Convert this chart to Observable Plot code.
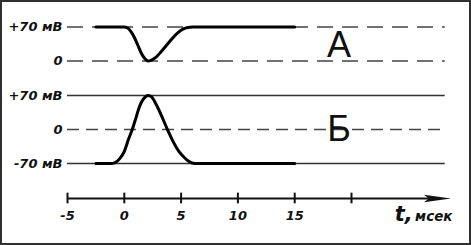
<!DOCTYPE html>
<html>
<head>
<meta charset="utf-8">
<script src="https://cdn.jsdelivr.net/npm/d3@7"></script>
<script src="https://cdn.jsdelivr.net/npm/@observablehq/plot@0.6"></script>
<style>
  html, body { margin: 0; padding: 0; background: #fff; }
  #chart svg { display: block; outline: 2.5px solid #303030; outline-offset: -2.5px; }
</style>
</head>
<body>
<div id="chart"></div>
<script>
// ---- data ----
// Panel А: potential trace (t in ms, value in mV)
const tA = [-2.5, 0, 0.3, 0.6, 0.9, 1.2, 1.5, 1.8, 2.1, 2.4, 2.8, 3.2, 3.7, 4.2, 4.7, 5.2, 5.6, 6.0, 15];
const vA = [70, 70, 68, 60, 48, 32, 16, 5, 0, 2, 8, 18, 32, 46, 58, 66, 69, 70, 70];
// Panel Б: action potential trace
const tB = [-2.5, -1.2, -0.8, -0.4, 0, 0.4, 0.7, 1.0, 1.3, 1.6, 1.9, 2.1, 2.4, 2.8, 3.3, 3.8, 4.3, 4.8, 5.3, 5.7, 6.2, 15];
const vB = [-70, -70, -68, -60, -45, -18, 0, 22, 45, 60, 68, 70, 67, 52, 27, 0, -25, -45, -58, -66, -70, -70];
// Reference levels
const levelPanels = ["А", "А", "Б", "Б", "Б"];
const levelValues = [70, 0, 70, 0, -70];
const levelLabels = ["+70 мВ", "0", "+70 мВ", "0", "-70 мВ"];
// Time axis
const timeTicks = [-5, 0, 5, 10, 15, 20];
const timeTickLabels = ["-5", "0", "5", "10", "15", ""];
const panelNames = ["А", "Б"];
const axisTitle = "t,";
const axisUnit = "мсек";

// ---- layout helpers (not data) ----
const panelOffset = {"А": 141, "Б": 0};
const axisY = -142;
const lineEnd = 28.25;
const arrowEnd = 28.75;

const curveA = tA.map((t, i) => ({t, y: vA[i] + panelOffset["А"]}));
const curveB = tB.map((t, i) => ({t, y: vB[i] + panelOffset["Б"]}));
const levels = levelValues.map((v, i) => ({
  panel: levelPanels[i], v, label: levelLabels[i],
  y: v + panelOffset[levelPanels[i]],
  dashed: levelPanels[i] === "А" || v === 0
}));
const ticks = timeTicks.map((t, i) => ({t, label: timeTickLabels[i]}));
const letters = panelNames.map(p => ({p, t: 18.9, y: panelOffset[p] + (p === "А" ? 31 : 0)}));

// filled arrowhead symbol, tip at the dot's position
const arrowHead = {
  draw(ctx) {
    ctx.moveTo(0, 0);
    ctx.lineTo(-27, -3.8);
    ctx.lineTo(-22, 0);
    ctx.lineTo(-27, 3.8);
    ctx.closePath();
  }
};

const boldItalic = {fontFamily: "DejaVu Sans, sans-serif", fontWeight: "bold", fontStyle: "italic"};

const chart = Plot.plot({
  width: 471,
  height: 245,
  marginLeft: 67,
  marginRight: 120,
  marginTop: 0,
  marginBottom: 47,
  x: {domain: [-5, 20], axis: null},
  y: {domain: [-142, 265.6], axis: null},
  style: {background: "#fff"},
  marks: [
    // reference level lines
    Plot.ruleY(levels.filter(d => !d.dashed), {y: "y", x1: -5, x2: lineEnd, stroke: "#333", strokeWidth: 1.4}),
    Plot.ruleY(levels.filter(d => d.dashed && d.panel === "А"), {y: "y", x1: -5, x2: lineEnd, stroke: "#444", strokeWidth: 1.5, strokeDasharray: "16,9"}),
    Plot.ruleY(levels.filter(d => d.dashed && d.panel === "Б"), {y: "y", x1: -5, x2: lineEnd, stroke: "#444", strokeWidth: 1.5, strokeDasharray: "12,7"}),
    // level labels
    Plot.text(levels, {x: -5, y: "y", text: "label", textAnchor: "end", dx: -5, fontSize: 13, fill: "#111", ...boldItalic}),
    // traces
    Plot.line(curveA, {x: "t", y: "y", curve: "monotone-x", stroke: "#000", strokeWidth: 3}),
    Plot.line(curveB, {x: "t", y: "y", curve: "monotone-x", stroke: "#000", strokeWidth: 3}),
    // panel letters
    Plot.text(letters, {x: "t", y: "y", text: "p", fontSize: 36, fontFamily: "Liberation Sans, Arial, sans-serif", fill: "#111"}),
    // time axis with arrow
    Plot.ruleY([axisY], {x1: -5, x2: arrowEnd - 1.5, stroke: "#111", strokeWidth: 2}),
    Plot.dot([{x: arrowEnd}], {x: "x", y: axisY, symbol: arrowHead, r: 5, fill: "#111", stroke: "none"}),
    Plot.ruleX(ticks, {x: "t", y1: axisY - 11, y2: axisY + 11, stroke: "#111", strokeWidth: 2}),
    Plot.text(ticks, {x: "t", y: axisY, text: "label", dy: 17, fontSize: 13, fill: "#111", ...boldItalic}),
    // axis title
    Plot.text([axisTitle], {x: 23.8, y: axisY, text: d => d, dy: 22, textAnchor: "start", lineAnchor: "bottom", fontSize: 21, fill: "#111", ...boldItalic}),
    Plot.text([axisUnit], {x: 25.6, y: axisY, text: d => d, dy: 22, textAnchor: "start", lineAnchor: "bottom", fontSize: 13.5, letterSpacing: "2px", fill: "#111", ...boldItalic})
  ]
});
document.getElementById("chart").appendChild(chart);
</script>
</body>
</html>
